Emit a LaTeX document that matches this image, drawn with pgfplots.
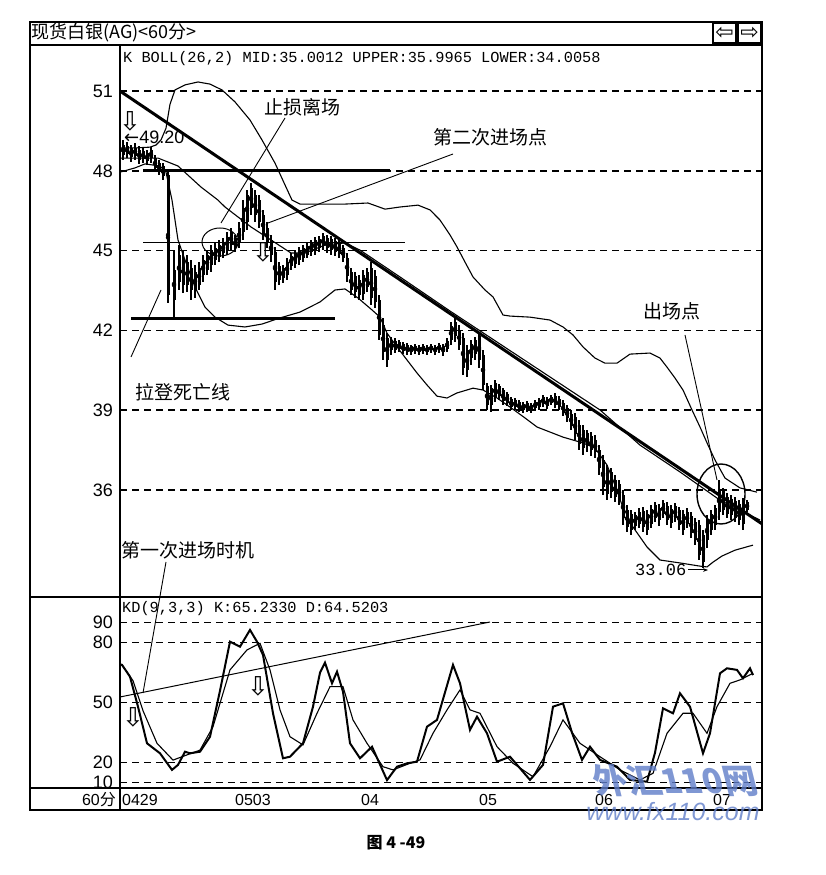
\documentclass[border=0pt]{standalone}
\usepackage{fontspec}
\setmainfont{Liberation Sans}
\setmonofont{Liberation Mono}
\newfontfamily\cjk{Noto Sans CJK SC}
\newfontfamily\dejavu{DejaVu Sans}
\usepackage{pgfplots}
\usepackage{pgfplotstable}
\pgfplotsset{compat=1.18}
\usetikzlibrary{arrows.meta}

\pgfplotstableread{
x lo hi blo bhi
123 48.41 49.16 48.59 48.97
127 48.48 49.08 48.63 48.93
131 48.33 48.97 48.52 48.86
135 48.41 49.04 48.56 48.86
139 48.26 48.93 48.41 48.78
143 48.29 48.86 48.44 48.74
147 48.22 48.78 48.37 48.67
151 48.29 48.89 48.48 48.78
155 47.95 48.59 48.11 48.48
159 47.84 48.41 47.99 48.29
163 47.65 48.29 47.80 48.18
168 43.03 47.95 43.33 47.84
174 42.47 45.02 43.14 44.27
179 43.52 45.21 43.82 44.83
183 43.41 45.02 43.71 44.72
187 43.44 44.83 43.71 44.57
191 43.14 44.65 43.52 44.35
195 43.22 44.46 43.52 44.20
199 43.52 44.57 43.71 44.35
203 43.82 44.83 44.08 44.65
207 44.08 45.02 44.27 44.83
211 44.20 45.21 44.46 45.02
215 44.46 45.29 44.65 45.10
219 44.57 45.40 44.76 45.21
223 44.72 45.47 44.91 45.32
227 44.83 45.70 45.02 45.51
231 45.02 45.85 45.21 45.70
235 44.95 45.59 45.10 45.47
239 45.10 46.08 45.32 45.85
243 45.40 46.90 45.70 46.60
247 45.77 47.28 46.08 47.09
251 46.34 47.54 46.60 47.35
255 46.08 47.28 46.34 47.09
259 45.85 47.09 46.08 46.90
263 45.40 46.53 45.59 46.34
267 45.10 46.08 45.29 45.85
271 44.57 45.59 44.83 45.40
275 43.52 45.14 43.82 44.95
279 43.71 44.57 43.89 44.42
283 43.78 44.46 43.97 44.35
287 43.89 44.72 44.08 44.57
291 44.27 44.91 44.42 44.80
295 44.35 45.02 44.50 44.91
299 44.46 45.14 44.65 45.02
303 44.57 45.21 44.72 45.10
307 44.72 45.29 44.83 45.17
311 44.80 45.40 44.95 45.29
315 44.83 45.51 45.02 45.40
319 44.95 45.55 45.10 45.44
323 45.02 45.66 45.17 45.55
327 44.91 45.59 45.10 45.47
331 44.83 45.55 45.02 45.44
335 44.80 45.47 44.95 45.36
339 44.72 45.40 44.87 45.29
343 44.57 45.21 44.72 45.10
347 43.82 44.91 44.05 44.72
351 43.33 44.35 43.52 44.20
355 43.22 44.20 43.44 44.05
359 43.14 44.08 43.33 43.89
363 43.14 44.27 43.37 44.08
367 43.44 44.35 43.63 44.20
371 42.95 44.57 43.22 44.35
375 42.84 44.27 43.07 44.05
379 41.64 43.33 41.83 43.14
383 40.89 42.47 41.19 42.20
387 40.62 41.90 40.89 41.71
391 41.08 41.75 41.26 41.64
395 41.15 41.71 41.26 41.60
399 41.19 41.64 41.30 41.56
403 41.11 41.56 41.23 41.49
407 41.08 41.53 41.19 41.45
411 41.08 41.45 41.19 41.41
415 41.11 41.49 41.23 41.41
419 41.08 41.45 41.19 41.38
423 41.11 41.49 41.23 41.41
427 41.08 41.45 41.19 41.38
431 41.15 41.49 41.26 41.41
435 41.08 41.45 41.19 41.38
439 41.15 41.53 41.26 41.45
443 41.04 41.49 41.19 41.41
447 41.19 41.71 41.30 41.60
451 41.45 42.32 41.64 42.17
455 41.56 42.47 41.79 42.32
459 41.26 42.20 41.45 42.02
463 40.32 41.90 40.59 41.71
467 40.25 41.45 40.51 41.26
471 40.70 41.64 40.96 41.49
475 40.89 41.75 41.11 41.64
479 40.59 41.94 40.89 41.79
483 39.76 41.26 39.95 41.08
487 39.01 40.02 39.20 39.91
491 38.93 39.95 39.20 39.83
495 39.31 40.14 39.46 40.02
499 39.38 39.98 39.53 39.91
503 39.20 39.83 39.35 39.76
507 39.16 39.68 39.27 39.61
511 39.01 39.50 39.12 39.42
515 39.01 39.46 39.12 39.38
519 38.93 39.38 39.05 39.31
523 38.89 39.31 39.01 39.23
527 38.93 39.35 39.05 39.27
531 38.89 39.27 39.01 39.20
535 38.97 39.38 39.08 39.31
539 39.01 39.46 39.12 39.38
543 39.12 39.57 39.23 39.50
547 39.05 39.50 39.16 39.42
551 39.20 39.57 39.27 39.50
555 39.08 39.65 39.20 39.53
559 39.01 39.53 39.12 39.42
563 38.78 39.38 38.89 39.27
567 38.55 39.20 38.71 39.08
571 38.26 39.01 38.40 38.86
575 37.88 38.89 38.11 38.74
579 37.50 38.63 37.73 38.44
583 37.32 38.44 37.58 38.26
587 37.43 38.26 37.65 38.14
591 37.28 38.18 37.50 38.03
595 37.20 38.07 37.43 37.88
599 36.56 37.69 36.83 37.50
603 35.81 37.32 36.11 37.13
607 35.62 36.94 35.85 36.75
611 35.70 36.83 35.92 36.68
615 35.55 36.56 35.74 36.38
619 35.44 36.38 35.62 36.23
623 34.68 36.00 34.95 35.81
627 34.42 35.44 34.61 35.25
631 34.31 35.25 34.50 35.10
635 34.50 35.17 34.65 35.06
639 34.57 35.32 34.72 35.17
643 34.42 35.36 34.61 35.21
647 34.31 35.25 34.50 35.10
651 34.57 35.44 34.72 35.29
655 34.80 35.55 34.95 35.44
659 34.65 35.47 34.87 35.32
663 34.95 35.62 35.10 35.51
667 34.68 35.55 34.87 35.40
671 34.57 35.44 34.76 35.29
675 34.80 35.51 34.95 35.40
679 34.50 35.36 34.68 35.25
683 34.31 35.25 34.50 35.10
687 34.57 35.32 34.72 35.17
691 34.20 35.17 34.38 35.02
695 33.93 34.95 34.12 34.80
699 33.37 34.87 33.56 34.68
703 33.06 34.50 33.29 34.31
707 33.82 35.06 34.12 34.87
711 34.31 35.25 34.50 35.10
715 34.50 35.44 34.68 35.32
719 34.87 36.38 35.17 36.00
723 35.06 36.08 35.25 35.96
727 34.95 35.89 35.10 35.74
731 34.87 35.81 35.06 35.66
735 34.80 35.74 34.95 35.59
739 34.68 35.62 34.87 35.47
743 34.50 35.70 34.72 35.55
747 35.17 35.62 35.25 35.55
}\candles

\pgfplotstableread{
x y
120 48.86
135 48.86
150 48.89
156 48.97
161 49.16
166 49.60
170 50.50
175 51.04
185 51.23
198 51.34
210 51.26
222 51.04
235 50.59
250 49.91
262 49.16
275 48.29
285 47.47
292 46.90
300 46.75
320 46.75
345 46.75
368 46.79
385 46.56
400 46.64
418 46.71
430 46.53
440 46.15
450 45.59
457 45.14
465 44.57
473 44.01
485 43.52
493 43.26
503 42.58
510 42.54
530 42.50
550 42.39
563 42.13
573 41.83
583 41.38
595 40.96
605 40.77
617 40.77
630 41.11
650 41.15
660 40.96
667 40.62
675 40.21
683 39.76
692 39.01
700 38.37
708 37.69
715 37.13
725 36.45
740 36.08
757 35.92
}\bandU

\pgfplotstableread{
x y
120 47.95
135 48.11
145 48.26
160 48.18
166 47.95
172 46.90
178 45.40
185 44.65
195 43.63
205 42.88
215 42.50
228 42.20
245 42.13
262 42.24
280 42.47
300 42.69
320 43.07
335 43.52
345 43.56
358 43.22
372 42.77
380 42.50
387 41.90
397 41.38
407 40.89
417 40.40
427 39.95
437 39.53
447 39.46
457 39.65
473 39.83
483 39.76
497 39.46
510 39.12
525 38.71
537 38.37
550 38.18
563 37.99
583 37.77
595 37.58
607 36.94
615 36.19
622 35.44
633 34.61
647 33.86
660 33.37
680 33.26
700 33.14
707 33.11
713 33.29
722 33.52
735 33.74
753 33.93
}\bandL

\pgfplotstableread{
x y
120 48.48
158 48.48
168 48.33
178 48.18
201 47.39
218 46.90
225 46.64
251 45.89
271 45.40
291 44.91
305 44.91
325 45.21
345 45.29
360 45.02
400 44.01
450 42.73
500 41.49
550 40.25
600 39.01
640 37.69
680 36.68
720 35.62
760 34.87
}\bandM

\pgfplotstableread{
x y
120 69.0
122 68.9
130 63.0
138 48.0
147 29.7
160 24.7
172 16.4
178 18.9
185 25.5
190 24.7
200 25.5
210 33.0
220 56.0
230 80.5
240 78.0
250 86.4
257 80.5
263 73.9
273 44.7
283 22.2
290 23.0
303 29.7
313 48.0
320 65.0
325 70.0
332 59.7
337 65.5
343 55.5
350 29.7
360 22.2
372 28.0
387 11.3
397 18.0
407 19.7
417 20.5
427 38.0
437 41.4
453 68.9
460 59.7
470 36.4
477 43.0
487 34.7
497 20.5
510 23.0
530 11.4
543 18.9
553 48.0
563 49.7
572 35.0
582 21.4
590 28.0
600 21.4
617 18.0
630 11.4
647 10.5
655 25.0
663 47.2
673 44.7
680 54.7
690 48.0
703 24.7
710 34.7
720 64.7
727 67.2
737 66.4
743 62.2
750 67.2
753 63.8
}\kdK

\pgfplotstableread{
x y
120 69.5
122 69.0
133 61.0
143 46.0
157 29.7
173 21.3
187 23.9
200 26.3
213 38.0
230 66.4
247 76.4
260 79.7
270 66.4
280 46.4
290 33.0
303 28.9
317 44.7
330 58.0
343 58.0
353 41.4
367 29.7
383 18.0
393 16.4
410 19.7
420 21.4
433 34.7
447 46.4
460 56.4
470 46.4
480 44.7
497 28.0
513 19.7
533 13.0
550 28.0
563 41.4
580 29.7
600 23.0
620 16.4
640 11.4
653 14.7
667 34.7
683 44.7
693 44.7
707 34.7
717 48.0
730 59.7
740 61.4
753 64.7
}\kdD

\begin{document}
\begin{tikzpicture}[x=1pt,y=1pt]
\useasboundingbox (0,0) rectangle (825,875);

% ---------------- main panel ----------------
\begin{axis}[at={(120pt,278pt)}, anchor=south west, scale only axis,
  width=642pt, height=552pt,
  xmin=120, xmax=762, ymin=31.98, ymax=52.73,
  axis line style={draw=none},
  xtick=\empty, ytick={36,39,42,45,48,51},
  ymajorgrids, grid style={black, line width=1.6pt, dash pattern=on 7pt off 5pt},
  major tick length=0pt,
  /pgf/number format/assume math mode=true,
  yticklabel style={font=\fontsize{18}{18}\selectfont, inner sep=0pt, xshift=-7pt},
]
\addplot[only marks, mark=none, error bars/.cd, y dir=both, y explicit, error mark=none,
  error bar style={draw=black, solid, line width=1.3pt}]
  table[x=x, y expr={(\thisrow{lo}+\thisrow{hi})/2}, y error expr={(\thisrow{hi}-\thisrow{lo})/2}] {\candles};
\addplot[only marks, mark=none, error bars/.cd, y dir=both, y explicit, error mark=none,
  error bar style={draw=black, solid, line width=3pt}]
  table[x=x, y expr={(\thisrow{blo}+\thisrow{bhi})/2}, y error expr={(\thisrow{bhi}-\thisrow{blo})/2}] {\candles};
\addplot[black, line width=1.1pt] table[x=x,y=y] {\bandU};
\addplot[black, line width=1.1pt] table[x=x,y=y] {\bandL};
\addplot[black, line width=1.1pt] table[x=x,y=y] {\bandM};
\addplot[black, line width=3pt] coordinates {(120,51.00) (762,34.73)};
\addplot[black, line width=3pt] coordinates {(143,48.03) (390,48.03)};
\addplot[black, line width=1pt] coordinates {(143,45.29) (405,45.29)};
\addplot[black, line width=3pt] coordinates {(131,42.43) (335,42.43)};
\end{axis}

% ---------------- KD panel ----------------
\begin{axis}[at={(120pt,87pt)}, anchor=south west, scale only axis,
  width=642pt, height=191pt,
  xmin=120, xmax=762, ymin=7.35, ymax=102.85,
  axis line style={draw=none},
  ytick={10,20,50,80,90},
  xtick={140,253,370,488,604,722},
  xticklabels={0429,0503,04,05,06,07},
  ymajorgrids, grid style={black, line width=1.6pt, dash pattern=on 7pt off 5pt},
  major tick length=0pt,
  /pgf/number format/assume math mode=true,
  yticklabel style={font=\fontsize{18}{18}\selectfont, inner sep=0pt, xshift=-7pt},
  xticklabel style={font=\fontsize{16}{16}\selectfont, inner sep=0pt, anchor=north, yshift=-6pt},
]
\addplot[black, line width=1.1pt] table[x=x,y=y] {\kdD};
\addplot[black, line width=2pt] table[x=x,y=y] {\kdK};
\end{axis}

% ---------------- frame ----------------
\draw[line width=1.2pt] (30,853) rectangle (762,65);
\draw[line width=2pt] (30,830) -- (762,830);
\draw[line width=2.5pt] (120,830) -- (120,65);
\draw[line width=2.5pt] (30,278) -- (762,278);
\draw[line width=2.5pt] (30,87) -- (762,87);
\draw[line width=1.5pt] (713,852) rectangle (736,832);
\draw[line width=1.5pt] (738,852) rectangle (761,832);
\node at (724.5,842) {\dejavu\fontsize{22}{22}\selectfont ⇦};
\node at (749.5,842) {\dejavu\fontsize{22}{22}\selectfont ⇨};

% ---------------- texts ----------------
\node[anchor=west, inner sep=0pt] at (31,842) {\cjk\fontsize{18}{18}\selectfont 现货白银(AG)<60分>};
\node[anchor=west, inner sep=0pt] at (123,816) {\ttfamily\fontsize{15.3}{15.3}\selectfont K BOLL(26,2) MID:35.0012 UPPER:35.9965 LOWER:34.0058};
\node[anchor=west, inner sep=0pt] at (122,266) {\ttfamily\fontsize{15.3}{15.3}\selectfont KD(9,3,3) K:65.2330 D:64.5203};
\node[anchor=east, inner sep=0pt] at (116,75) {\fontsize{16}{16}\selectfont 60{\cjk 分}};
\node at (396,32) {\cjk\bfseries\fontsize{16}{16}\selectfont 图 4 -49};

% annotations
\node at (302,768) {\cjk\fontsize{19}{19}\selectfont 止损离场};
\draw[line width=0.9pt] (285,757) -- (221,652);
\draw[line width=1pt] (220,633) ellipse [x radius=18, y radius=14];
\node at (490,738) {\cjk\fontsize{19}{19}\selectfont 第二次进场点};
\draw[line width=0.9pt] (453,721) -- (268,652);
\node at (672,564) {\cjk\fontsize{19}{19}\selectfont 出场点};
\draw[line width=0.9pt] (685,540) -- (717,395);
\draw[line width=1.4pt] (721,381) ellipse [x radius=24, y radius=30];
\node at (183,483) {\cjk\fontsize{19}{19}\selectfont 拉登死亡线};
\draw[line width=0.9pt] (131,518) -- (161,585);
\node at (188,325) {\cjk\fontsize{19}{19}\selectfont 第一次进场时机};
\draw[line width=0.9pt] (143,182) -- (166,313);
\draw[line width=1pt] (120,178) -- (490,253);
\node at (130,754) {\dejavu\fontsize{26}{26}\selectfont ⇩};
\node at (263,623) {\dejavu\fontsize{26}{26}\selectfont ⇩};
\node at (133,158) {\dejavu\fontsize{26}{26}\selectfont ⇩};
\node at (258,189) {\dejavu\fontsize{26}{26}\selectfont ⇩};
\node[anchor=west, inner sep=0pt] at (124,738) {\fontsize{18}{18}\selectfont {\dejavu ←}49.20};
\node[anchor=west, inner sep=0pt] at (635,305) {\ttfamily\fontsize{17}{17}\selectfont 33.06};
\draw[line width=1pt, -{Stealth[length=5pt]}] (688,305) -- (708,305);

% watermark
\definecolor{wm}{RGB}{95,125,200}
\node[text=wm, opacity=0.8, xslant=-0.25] at (675,94) {\cjk\bfseries\fontsize{34}{34}\selectfont 外汇110网};
\node[text=wm, opacity=0.8] at (673,63) {\itshape\fontsize{25}{25}\selectfont www.fx110.com};
\end{tikzpicture}
\end{document}
